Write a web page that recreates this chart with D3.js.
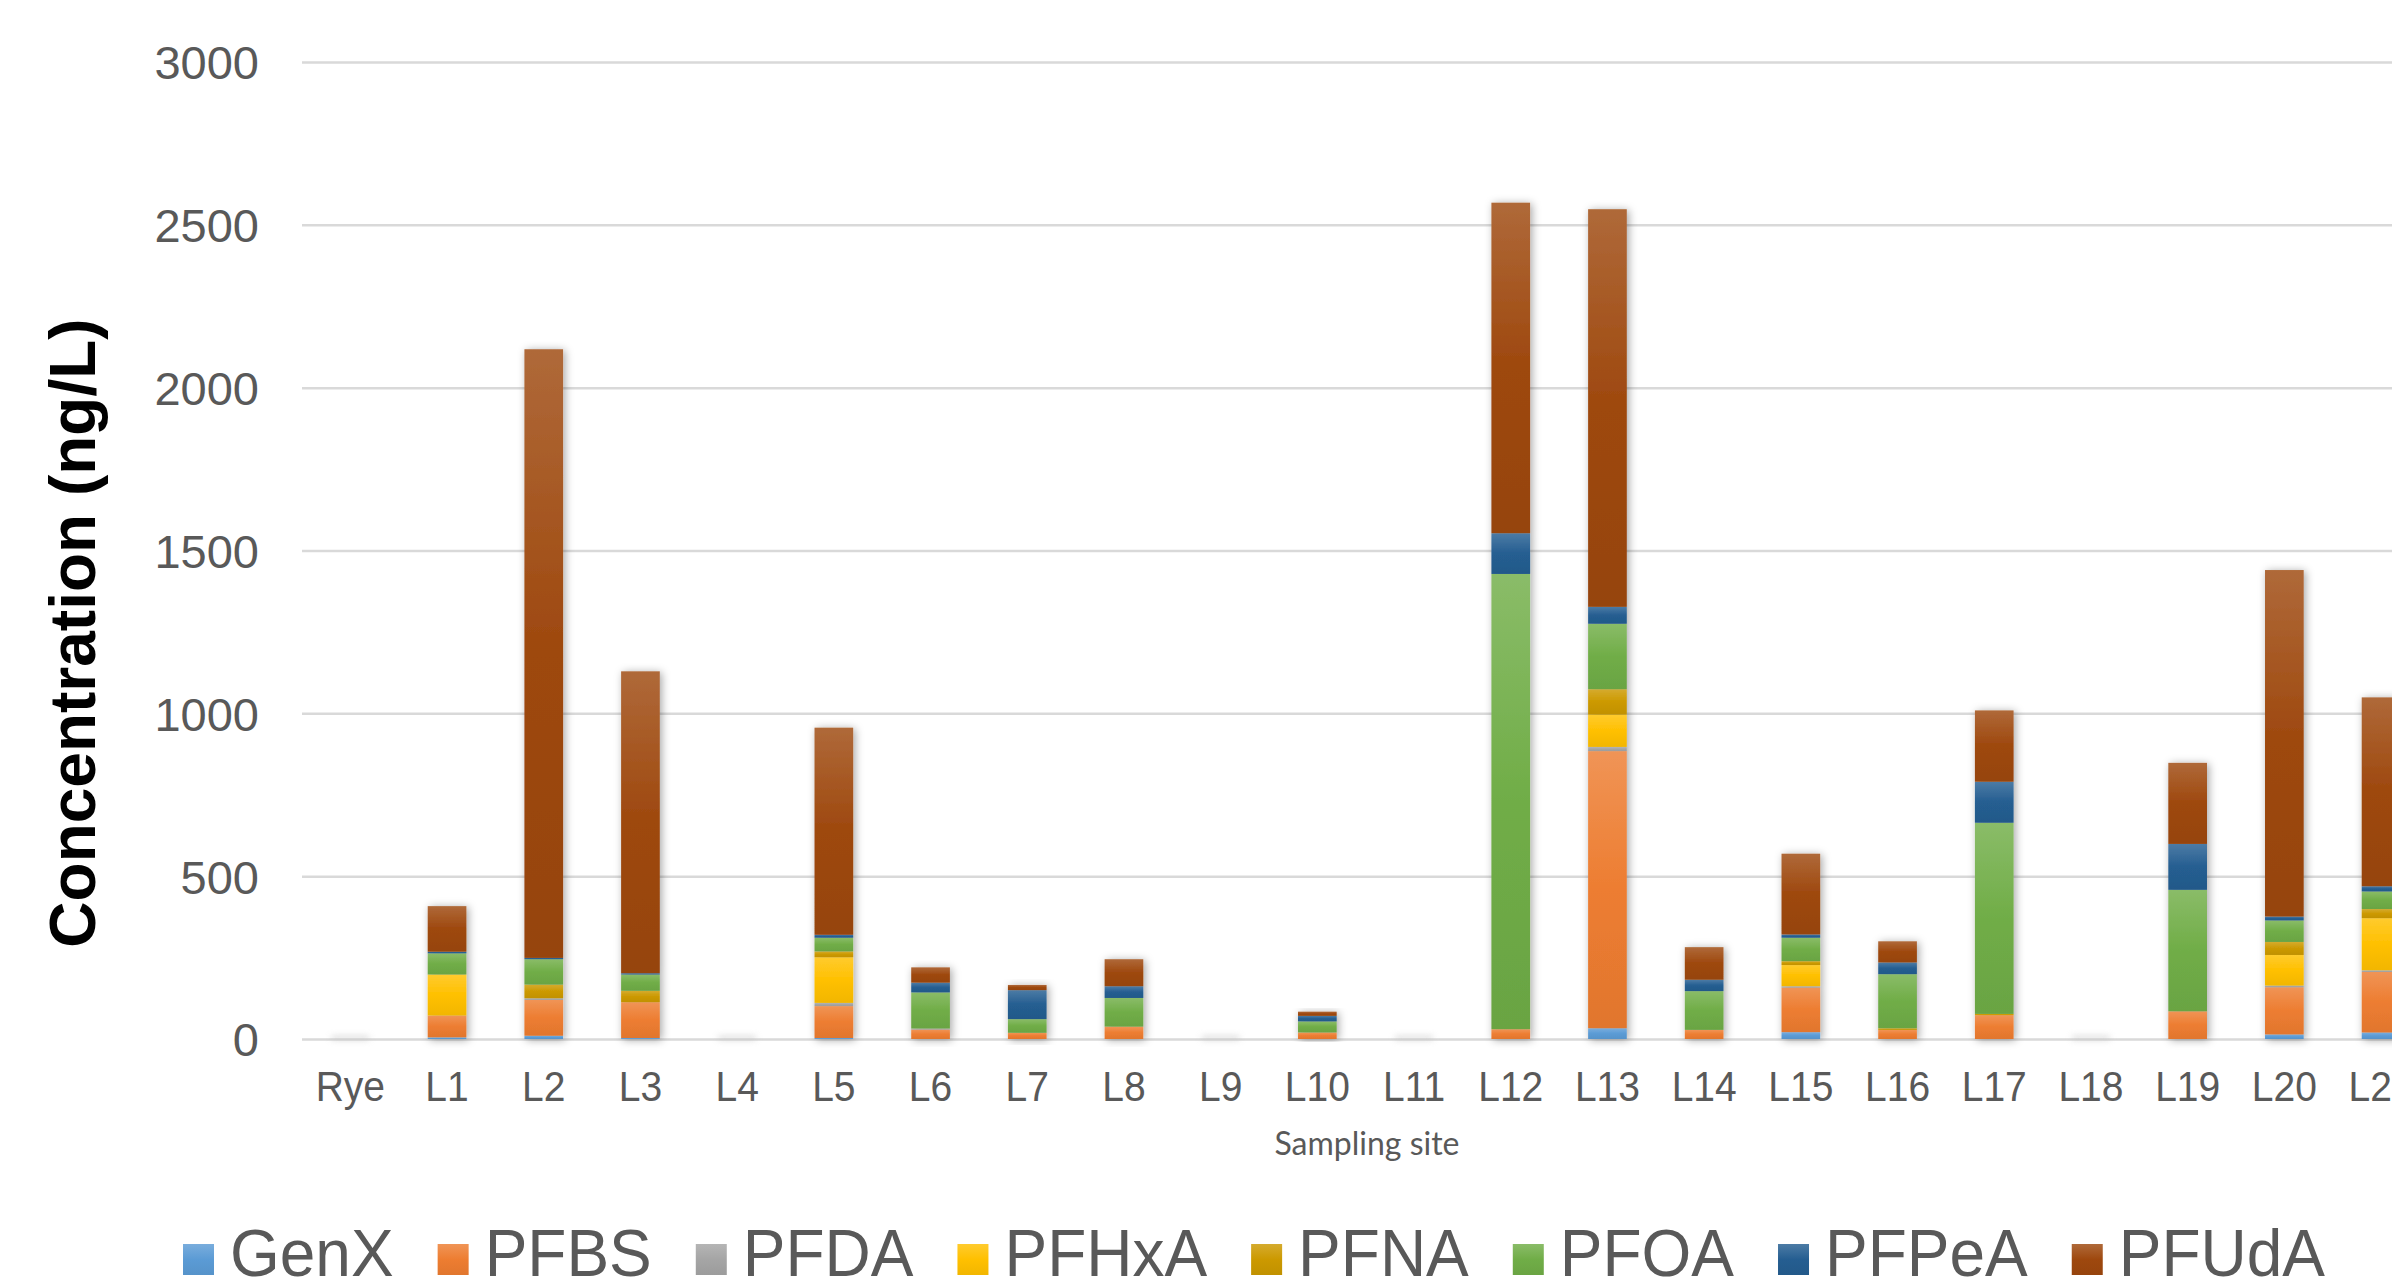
<!DOCTYPE html>
<html lang="en">
<head>
<meta charset="UTF-8">
<title>PFAS concentration by sampling site</title>
<script src="https://cdn.jsdelivr.net/npm/d3@7/dist/d3.min.js"></script>
<style>
body {
  margin: 0px;
  overflow: hidden;
  background: #fff;
}
text {
  font-family: "Liberation Sans", Arial, sans-serif;
  fill: #595959;
}
.tick line {
  stroke: #d9d9d9;
  stroke-width: 2.5;
}
</style>
</head>
<body>
<svg width="2392" height="1288"></svg>
<script>
// sampling sites (the chart is cut off at the right after L21)
const sites = ['Rye', 'L1', 'L2', 'L3', 'L4', 'L5', 'L6', 'L7', 'L8', 'L9', 'L10',
  'L11', 'L12', 'L13', 'L14', 'L15', 'L16', 'L17', 'L18', 'L19', 'L20', 'L21'];
const compounds = ['GenX', 'PFBS', 'PFDA', 'PFHxA', 'PFNA', 'PFOA', 'PFPeA', 'PFUdA'];

// ng/L, one value per site
const genX  = [0, 5, 10, 3, 0, 3, 0, 0, 0, 0, 0, 0, 0, 33, 0, 21, 0, 0, 0, 0, 14, 20];
const pfbs  = [0, 67, 110, 110, 0, 98, 29, 19, 38, 0, 20, 0, 30, 851, 28, 137, 28, 73, 0, 85, 145, 186];
const pfda  = [0, 0, 5, 0, 0, 10, 3, 0, 0, 0, 0, 0, 0, 13, 0, 4, 0, 0, 0, 0, 5, 5];
const pfhxa = [0, 126, 0, 0, 0, 140, 0, 0, 0, 0, 0, 0, 0, 99, 0, 65, 0, 0, 0, 0, 94, 160];
const pfna  = [0, 0, 42, 35, 0, 18, 0, 0, 0, 0, 0, 0, 0, 78, 0, 12, 5, 4, 0, 0, 40, 28];
const pfoa  = [0, 65, 78, 50, 0, 42, 111, 42, 88, 0, 34, 0, 1398, 201, 119, 72, 166, 587, 0, 373, 66, 54];
const pfpea = [0, 5, 4, 4, 0, 9, 30, 89, 36, 0, 17, 0, 125, 52, 35, 10, 36, 126, 0, 141, 12, 16];
const pfuda = [0, 140, 1869, 927, 0, 636, 47, 16, 83, 0, 13, 0, 1015, 1221, 100, 248, 65, 219, 0, 249, 1064, 580];

const yTicks = [0, 500, 1000, 1500, 2000, 2500, 3000];

const series = [genX, pfbs, pfda, pfhxa, pfna, pfoa, pfpea, pfuda];
const colors = ['#5B9BD5', '#ED7D31', '#A5A5A5', '#FFC000', '#CC9900', '#70AD47', '#255E91', '#9E480E'];

const table = sites.map((s, i) => {
  const row = { site: s };
  compounds.forEach((c, j) => { row[c] = series[j][i]; });
  return row;
});

const svg = d3.select('svg');

const x = d3.scaleBand()
  .domain(sites)
  .range([302, 302 + 96.7 * sites.length])
  .paddingInner(0.6)
  .paddingOuter(0.3);

const y = d3.scaleLinear()
  .domain([0, 3000])
  .range([1039, 62]);

// gradients like the office "linear down" fill
const defs = svg.append('defs');
compounds.forEach((c, j) => {
  const base = d3.color(colors[j]);
  const g = defs.append('linearGradient')
    .attr('id', 'grad' + j)
    .attr('x1', 0).attr('y1', 0).attr('x2', 0).attr('y2', 1);
  g.append('stop').attr('offset', '0%').attr('stop-color', d3.interpolateRgb(base, '#fff')(0.18));
  g.append('stop').attr('offset', '50%').attr('stop-color', base.formatHex());
  g.append('stop').attr('offset', '100%').attr('stop-color', base.darker(0.15).formatHex());
});
const shadow = defs.append('filter')
  .attr('id', 'shadow')
  .attr('x', '-50%').attr('y', '-10%').attr('width', '200%').attr('height', '120%');
shadow.append('feDropShadow')
  .attr('dx', 2).attr('dy', 1)
  .attr('stdDeviation', 4)
  .attr('flood-color', '#000')
  .attr('flood-opacity', 0.35);
defs.append('filter')
  .attr('id', 'blur')
  .attr('x', '-50%').attr('y', '-200%').attr('width', '200%').attr('height', '500%')
  .append('feGaussianBlur').attr('stdDeviation', 3);

// y axis with gridlines
const yAxisG = svg.append('g')
  .attr('transform', 'translate(302,0)')
  .call(d3.axisLeft(y).tickValues(yTicks).tickFormat(d3.format('d')).tickSize(-2200).tickPadding(43));
yAxisG.select('.domain').remove();
yAxisG.selectAll('.tick text')
  .attr('font-size', 47)
  .attr('dy', '0.36em')
  .style('fill', '#595959');

// stacked bars
const stacked = d3.stack().keys(compounds)(table);
const totals = table.map(r => d3.sum(compounds, c => r[c]));

const barG = svg.append('g');

// empty sites still leave a faint shadow smudge on the baseline
barG.selectAll('rect.ghost')
  .data(sites.filter((s, i) => totals[i] === 0))
  .enter().append('rect')
    .attr('class', 'ghost')
    .attr('x', d => x(d))
    .attr('y', y(0) - 3)
    .attr('width', x.bandwidth())
    .attr('height', 4)
    .attr('rx', 2)
    .attr('fill', '#bdbdbd')
    .attr('opacity', 0.6)
    .attr('filter', 'url(#blur)');

const siteG = barG.selectAll('g.site')
  .data(sites)
  .enter().append('g')
    .attr('class', 'site')
    .attr('filter', 'url(#shadow)');

siteG.each(function(s, i) {
  const g = d3.select(this);
  stacked.forEach((layer, j) => {
    const d = layer[i];
    if (d[1] - d[0] <= 0) return;
    g.append('rect')
      .attr('x', x(s))
      .attr('width', x.bandwidth())
      .attr('y', y(d[1]))
      .attr('height', y(d[0]) - y(d[1]))
      .attr('fill', `url(#grad${j})`);
  });
});

// x axis labels
const xAxisG = svg.append('g')
  .attr('transform', 'translate(0,1039)')
  .call(d3.axisBottom(x).tickSize(0));
xAxisG.select('.domain').remove();
xAxisG.selectAll('.tick text')
  .attr('font-size', 39)
  .attr('y', 62 / 1.09)
  .attr('dy', 0)
  .attr('transform', 'scale(1,1.09)')
  .style('fill', '#595959');

// axis titles
svg.append('text')
  .attr('transform', 'translate(95,633) rotate(-90)')
  .attr('text-anchor', 'middle')
  .attr('font-size', 64)
  .attr('font-weight', 'bold')
  .style('fill', '#000')
  .text('Concentration (ng/L)');

svg.append('text')
  .attr('x', 1367)
  .attr('y', 1155)
  .attr('text-anchor', 'middle')
  .attr('font-size', 32)
  .style('font-family', 'Lato, "Open Sans", sans-serif')
  .text('Sampling site');

// legend
const legend = svg.append('g');
let lx = 183;
compounds.forEach((c, j) => {
  legend.append('rect')
    .attr('x', lx)
    .attr('y', 1244)
    .attr('width', 31)
    .attr('height', 31)
    .attr('fill', `url(#grad${j})`);
  const t = legend.append('text')
    .attr('transform', `translate(${lx + 47},1276) scale(1,1.05)`)
    .attr('font-size', 64)
    .text(c);
  lx += 47 + t.node().getComputedTextLength() + 44;
});
</script>
</body>
</html>
